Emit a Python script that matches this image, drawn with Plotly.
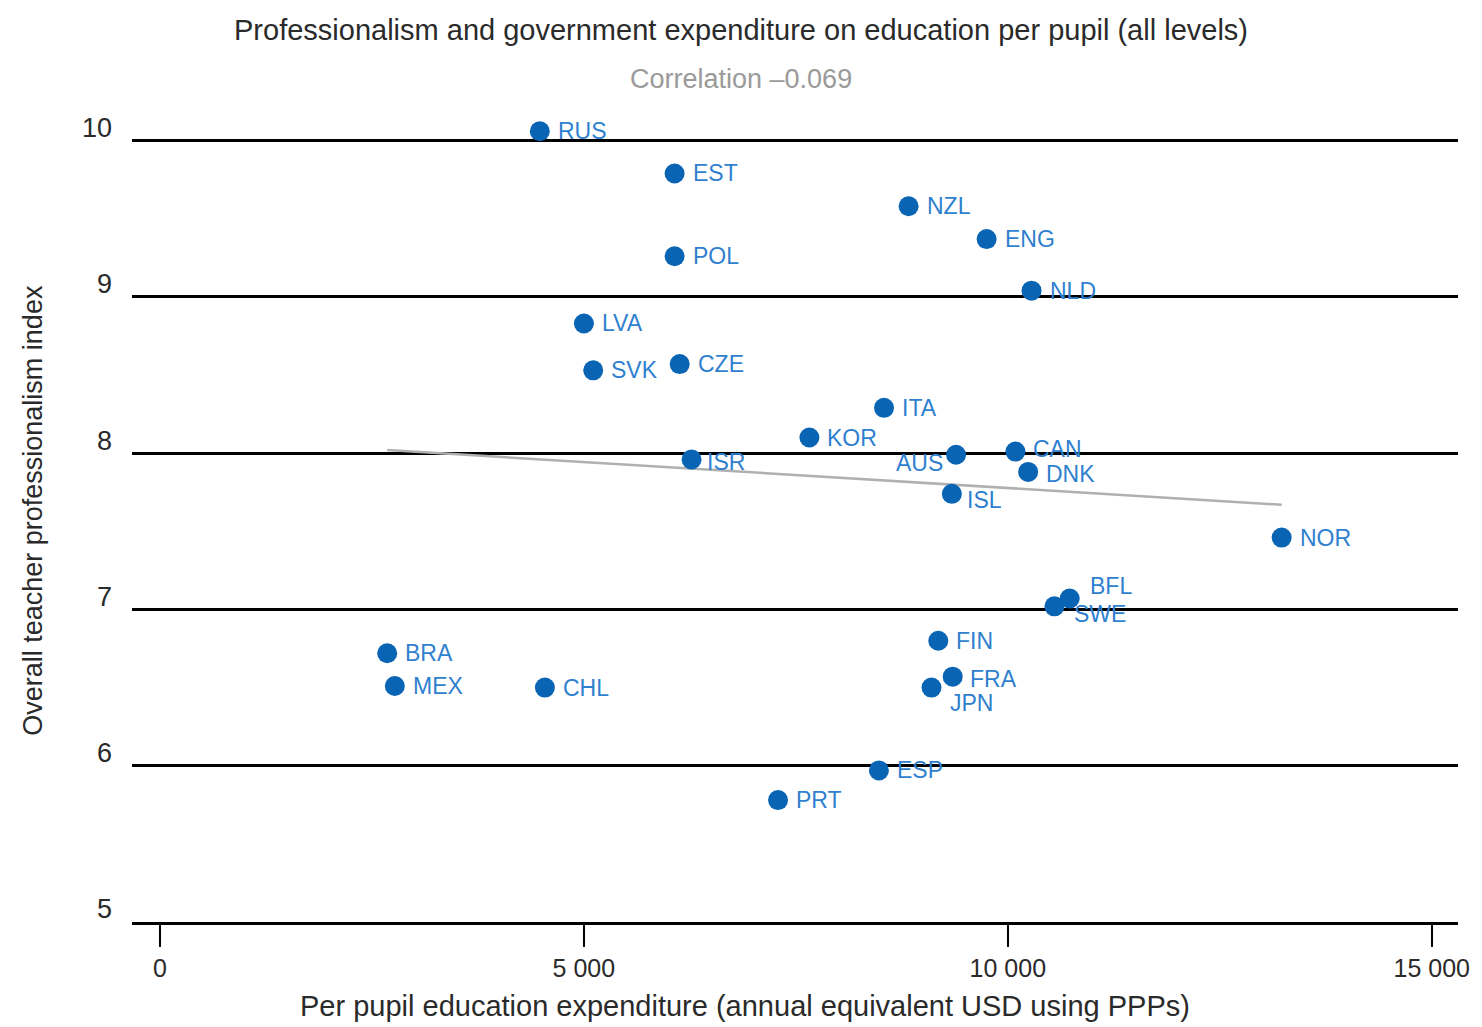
import plotly.graph_objects as go

countries = ["RUS", "EST", "NZL", "ENG", "POL", "NLD", "LVA", "SVK", "CZE", "ITA",
             "KOR", "ISR", "AUS", "CAN", "DNK", "ISL", "NOR", "BFL", "SWE", "FIN",
             "BRA", "MEX", "CHL", "FRA", "JPN", "ESP", "PRT"]
expenditure = [4480, 6070, 8830, 9750, 6070, 10280, 5000, 5110, 6130, 8540,
               7660, 6270, 9390, 10090, 10240, 9340, 13230, 10730, 10550, 9180,
               2680, 2770, 4540, 9350, 9100, 8480, 7290]
professionalism = [10.06, 9.79, 9.58, 9.37, 9.26, 9.04, 8.83, 8.53, 8.57, 8.29,
                   8.10, 7.96, 7.99, 8.01, 7.88, 7.74, 7.46, 7.07, 7.02, 6.80,
                   6.72, 6.51, 6.50, 6.57, 6.50, 5.97, 5.78]

trend_x = [2680, 13230]
trend_y = [8.02, 7.67]

x_ticks = [0, 5000, 10000, 15000]
x_tick_labels = ["0", "5 000", "10 000", "15 000"]
y_ticks = [5, 6, 7, 8, 9, 10]

FONT = "Liberation Sans, Arial, sans-serif"
BLUE = "#0a64b4"
LABEL_BLUE = "#2f7fcf"

# plot area geometry (pixels)
LEFT, RIGHT_EDGE, BOTTOM = 132, 1458, 922
Y_TOP_VAL = 10.1
PX_PER_UNIT = 156.2
TOP = BOTTOM - (Y_TOP_VAL - 5) * PX_PER_UNIT
PLOT_H = BOTTOM - TOP
PLOT_W = RIGHT_EDGE - LEFT


def px_to_paper_y(py):
    return (BOTTOM - py) / PLOT_H


def px_to_paper_x(px):
    return (px - LEFT) / PLOT_W


# label placement offsets (pixels) relative to each marker
label_offsets = {c: (16, 0, "left") for c in countries}
label_offsets.update({
    "AUS": (-11, -8, "right"),
    "ISR": (13, -3, "left"),
    "ISL": (13, -6, "left"),
    "CAN": (16, 3, "left"),
    "DNK": (16, -2, "left"),
    "FRA": (15, -2, "left"),
    "JPN": (16, -15, "left"),
    "SWE": (18, -8, "left"),
    "BFL": (18, 13, "left"),
})

fig = go.Figure()
fig.add_trace(go.Scatter(x=trend_x, y=trend_y, mode="lines",
                         line=dict(color="#b0b0b0", width=2.5),
                         hoverinfo="skip", showlegend=False))
fig.add_trace(go.Scatter(x=expenditure, y=professionalism, mode="markers",
                         text=countries,
                         marker=dict(size=20, color=BLUE),
                         cliponaxis=False, showlegend=False))

annotations = []
for c, xv, yv in zip(countries, expenditure, professionalism):
    dx, dy, anchor = label_offsets[c]
    annotations.append(dict(x=xv, y=yv, xref="x", yref="y", text=c, showarrow=False,
                            xanchor=anchor, yanchor="middle", xshift=dx, yshift=dy,
                            font=dict(family=FONT, size=23, color=LABEL_BLUE)))

annotations += [
    dict(text="Correlation \u20130.069", xref="paper", yref="paper",
         x=px_to_paper_x(741), y=px_to_paper_y(79), xanchor="center", yanchor="middle",
         showarrow=False, font=dict(family=FONT, size=27, color="#9a9a9a")),
    dict(text="Per pupil education expenditure (annual equivalent USD using PPPs)",
         xref="paper", yref="paper",
         x=px_to_paper_x(745), y=px_to_paper_y(1006), xanchor="center", yanchor="middle",
         showarrow=False, font=dict(family=FONT, size=29, color="#2a2a2a")),
    dict(text="Overall teacher professionalism index", textangle=-90,
         xref="paper", yref="paper",
         x=px_to_paper_x(33), y=px_to_paper_y(511), xanchor="center", yanchor="middle",
         showarrow=False, font=dict(family=FONT, size=27, color="#2a2a2a")),
]

fig.update_layout(
    width=1482, height=1027,
    margin=dict(l=LEFT, r=1482 - RIGHT_EDGE, t=TOP, b=1027 - BOTTOM),
    plot_bgcolor="white", paper_bgcolor="white",
    font=dict(family=FONT, color="#333333"),
    title=dict(text="Professionalism and government expenditure on education per pupil (all levels)",
               x=0.5, xref="container", y=1 - 30 / 1027, yref="container",
               xanchor="center", yanchor="middle",
               font=dict(family=FONT, size=29, color="#2a2a2a")),
    annotations=annotations,
    xaxis=dict(range=[-330, 15310], tickvals=x_ticks, ticktext=x_tick_labels,
               showgrid=False, zeroline=False,
               showline=True, linecolor="black", linewidth=3,
               ticks="outside", ticklen=22, tickwidth=2, tickcolor="black",
               tickfont=dict(family=FONT, size=25, color="#2a2a2a")),
    yaxis=dict(range=[5, Y_TOP_VAL], tickvals=y_ticks, showgrid=True, gridcolor="black",
               gridwidth=3, zeroline=False, showline=False, ticks="",
               ticklabelshift=-13, ticklabelstandoff=19,
               tickfont=dict(family=FONT, size=27, color="#2a2a2a")),
)

fig.write_html("out.html", config={"displayModeBar": False},
               post_script="document.body.style.margin='0px';")
